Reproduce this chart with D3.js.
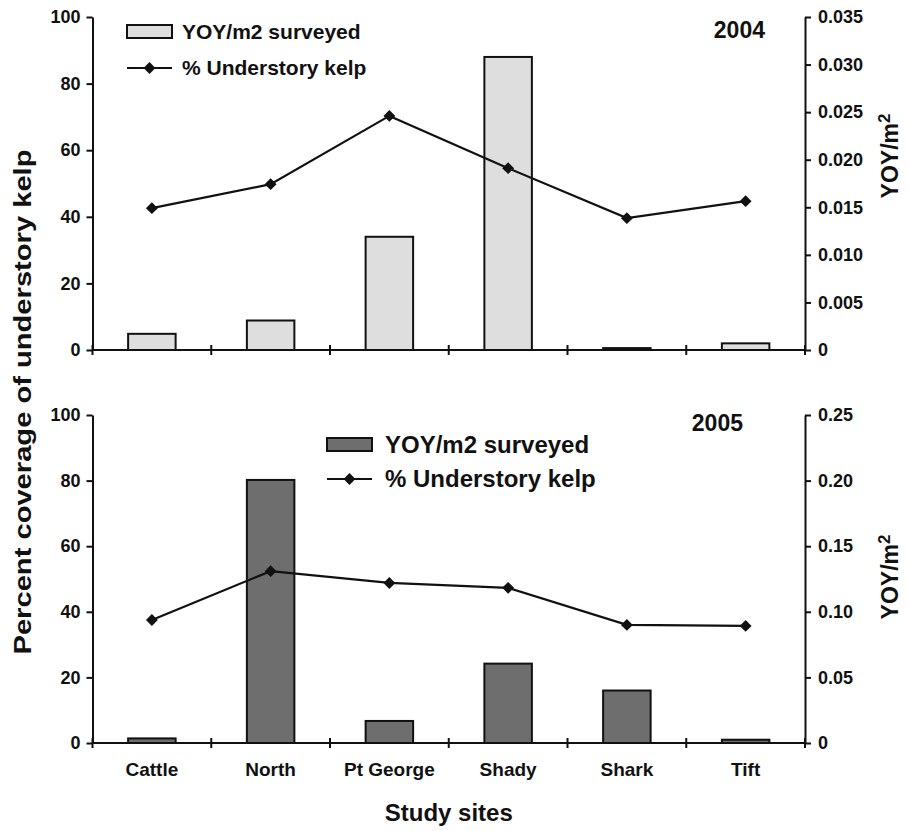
<!DOCTYPE html>
<html>
<head>
<meta charset="utf-8">
<script src="https://cdn.jsdelivr.net/npm/d3@7"></script>
<style>
  body { margin: 0; background: #fff; }
  svg text { font-family: "Liberation Sans", Arial, sans-serif; font-weight: bold; fill: #111; }
</style>
</head>
<body>
<div id="chart"></div>
<script>
// study sites along the x axis
const sites = ["Cattle", "North", "Pt George", "Shady", "Shark", "Tift"];

// 2004 panel
const yoy2004 = [0.0017, 0.0031, 0.0119, 0.0308, 0.0002, 0.0007];   // YOY/m2 surveyed (right axis)
const kelp2004 = [42.6, 49.8, 70.3, 54.6, 39.6, 44.7];              // % understory kelp (left axis)
const rightTicks2004 = [0, 0.005, 0.010, 0.015, 0.020, 0.025, 0.030, 0.035];

// 2005 panel
const yoy2005 = [0.0035, 0.2005, 0.0168, 0.0605, 0.0400, 0.0025];
const kelp2005 = [37.5, 52.4, 48.8, 47.3, 36.0, 35.7];
const rightTicks2005 = [0, 0.05, 0.10, 0.15, 0.20, 0.25];

const leftTicks = [0, 20, 40, 60, 80, 100];

const W = 908, H = 831;
const x0 = 92.5, x1 = 805;

const svg = d3.select("#chart").append("svg")
    .attr("width", W)
    .attr("height", H);

// x scales shared by both panels
const xBand = d3.scaleBand().domain(sites).range([x0, x1]).paddingInner(0.6).paddingOuter(0.3);
const xEdge = d3.scaleLinear().domain([0, sites.length]).range([x0, x1]);

function drawPanel(opt) {
    let yLeft = d3.scaleLinear().domain([0, 100]).range([opt.bottom, opt.top]);
    let yRight = d3.scaleLinear().domain([0, opt.rightMax]).range([opt.bottom, opt.top]);

    let g = svg.append("g");

    // bars
    g.selectAll("rect.bar")
        .data(sites)
        .enter()
        .append("rect")
        .attr("class", "bar")
        .attr("x", d => xBand(d))
        .attr("width", xBand.bandwidth())
        .attr("y", (d, i) => yRight(opt.yoy[i]))
        .attr("height", (d, i) => opt.bottom - yRight(opt.yoy[i]))
        .attr("fill", opt.barFill)
        .attr("stroke", "#111")
        .attr("stroke-width", 2);

    // left axis
    let axL = g.append("g")
        .attr("transform", `translate(${x0},0)`)
        .call(d3.axisLeft(yLeft).tickValues(leftTicks).tickSize(6).tickSizeOuter(0).tickPadding(6));
    axL.selectAll("text").style("font-size", "18px");

    // right axis
    let axR = g.append("g")
        .attr("transform", `translate(${x1},0)`)
        .call(d3.axisRight(yRight).tickValues(opt.rightTicks).tickSize(6).tickSizeOuter(0).tickPadding(7)
            .tickFormat(d => d === 0 ? "0" : d3.format(opt.rightFmt)(d)));
    axR.selectAll("text").style("font-size", "18px");

    g.selectAll(".domain, .tick line").attr("stroke", "#111").attr("stroke-width", 2);

    // x axis line with crossing ticks at site boundaries
    g.append("line")
        .attr("x1", x0).attr("x2", x1)
        .attr("y1", opt.bottom).attr("y2", opt.bottom)
        .attr("stroke", "#111").attr("stroke-width", 2);
    g.selectAll("line.xtick")
        .data(d3.range(sites.length + 1))
        .enter()
        .append("line")
        .attr("class", "xtick")
        .attr("x1", d => xEdge(d)).attr("x2", d => xEdge(d))
        .attr("y1", opt.bottom - 5).attr("y2", opt.bottom + 5)
        .attr("stroke", "#111").attr("stroke-width", 2);

    // kelp line + diamonds
    let line = d3.line()
        .x((d, i) => xBand(sites[i]) + xBand.bandwidth() / 2)
        .y(d => yLeft(d));
    g.append("path")
        .datum(opt.kelp)
        .attr("d", line)
        .attr("fill", "none")
        .attr("stroke", "#111")
        .attr("stroke-width", 2.2);
    let diamond = d3.symbol().type(d3.symbolDiamond2).size(90);
    g.selectAll("path.pt")
        .data(opt.kelp)
        .enter()
        .append("path")
        .attr("class", "pt")
        .attr("d", diamond)
        .attr("transform", (d, i) => `translate(${xBand(sites[i]) + xBand.bandwidth() / 2},${yLeft(d)})`)
        .attr("fill", "#111");

    // year label
    g.append("text")
        .attr("x", opt.yearX)
        .attr("y", opt.yearY)
        .attr("text-anchor", "end")
        .style("font-size", "23px")
        .text(opt.year);

    // legend
    let lg = g.append("g").attr("transform", `translate(${opt.legX},${opt.legY})`);
    lg.append("rect")
        .attr("x", 0).attr("y", -7)
        .attr("width", 45).attr("height", 13)
        .attr("fill", opt.barFill)
        .attr("stroke", "#111").attr("stroke-width", 2);
    lg.append("text")
        .attr("x", opt.legTextX).attr("y", 0)
        .attr("dy", "0.35em")
        .style("font-size", opt.legFont + "px")
        .text("YOY/m2 surveyed");
    lg.append("line")
        .attr("x1", 0).attr("x2", 45)
        .attr("y1", opt.legGap).attr("y2", opt.legGap)
        .attr("stroke", "#111").attr("stroke-width", 2.2);
    lg.append("path")
        .attr("d", diamond)
        .attr("transform", `translate(22.5,${opt.legGap})`)
        .attr("fill", "#111");
    lg.append("text")
        .attr("x", opt.legTextX).attr("y", opt.legGap)
        .attr("dy", "0.35em")
        .style("font-size", opt.legFont + "px")
        .text("% Understory kelp");

    // right axis title YOY/m²
    let rt = g.append("text")
        .attr("transform", `translate(${opt.rightTitleX},${opt.rightTitleY}) rotate(-90)`)
        .attr("text-anchor", "middle")
        .style("font-size", "23px");
    rt.append("tspan").text("YOY/m");
    rt.append("tspan").attr("dy", "-0.45em").style("font-size", "17px").text("2");
}

drawPanel({
    top: 17, bottom: 350, rightMax: 0.035, rightTicks: rightTicks2004, rightFmt: ".3f",
    yoy: yoy2004, kelp: kelp2004, barFill: "#dedede", year: "2004", yearX: 765, yearY: 38,
    legX: 127, legY: 32, legTextX: 55, legGap: 36, legFont: 21,
    rightTitleX: 898, rightTitleY: 156
});

drawPanel({
    top: 415, bottom: 743, rightMax: 0.25, rightTicks: rightTicks2005, rightFmt: ".2f",
    yoy: yoy2005, kelp: kelp2005, barFill: "#6e6e6e", year: "2005", yearX: 743, yearY: 431,
    legX: 327, legY: 445, legTextX: 58, legGap: 34, legFont: 24,
    rightTitleX: 898, rightTitleY: 577
});

// category labels under the lower panel
svg.selectAll("text.site")
    .data(sites)
    .enter()
    .append("text")
    .attr("class", "site")
    .attr("x", d => xBand(d) + xBand.bandwidth() / 2)
    .attr("y", 776)
    .attr("text-anchor", "middle")
    .style("font-size", "19px")
    .text(d => d);

// axis titles
svg.append("text")
    .attr("x", (x0 + x1) / 2)
    .attr("y", 821)
    .attr("text-anchor", "middle")
    .style("font-size", "24px")
    .text("Study sites");

svg.append("text")
    .attr("transform", `translate(31,402) rotate(-90)`)
    .attr("text-anchor", "middle")
    .attr("textLength", 505)
    .attr("lengthAdjust", "spacingAndGlyphs")
    .style("font-size", "24px")
    .text("Percent coverage of understory kelp");
</script>
</body>
</html>
